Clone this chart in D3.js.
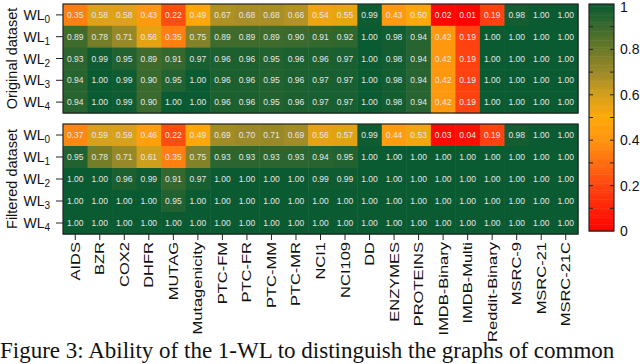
<!DOCTYPE html>
<html>
<head>
<meta charset="utf-8">
<script src="https://cdn.jsdelivr.net/npm/d3@7"></script>
<style>
  body { margin: 0; background: #fff; }
  svg { display: block; font-family: "Liberation Sans", Arial, sans-serif; }
</style>
</head>
<body>
<svg id="chart" width="640" height="364"></svg>
<script>
// datasets along the x axis
var datasets = ['AIDS', 'BZR', 'COX2', 'DHFR', 'MUTAG', 'Mutagenicity', 'PTC-FM', 'PTC-FR',
    'PTC-MM', 'PTC-MR', 'NCI1', 'NCI109', 'DD', 'ENZYMES', 'PROTEINS', 'IMDB-Binary',
    'IMDB-Multi', 'Reddit-Binary', 'MSRC-9', 'MSRC-21', 'MSRC-21C'];
var iterations = [0, 1, 2, 3, 4];

var original = [
    [0.35, 0.58, 0.58, 0.43, 0.22, 0.49, 0.67, 0.68, 0.68, 0.66, 0.54, 0.55, 0.99, 0.43, 0.50, 0.02, 0.01, 0.19, 0.98, 1.00, 1.00],
    [0.89, 0.78, 0.71, 0.56, 0.35, 0.75, 0.89, 0.89, 0.89, 0.90, 0.91, 0.92, 1.00, 0.98, 0.94, 0.42, 0.19, 1.00, 1.00, 1.00, 1.00],
    [0.93, 0.99, 0.95, 0.89, 0.91, 0.97, 0.96, 0.96, 0.95, 0.96, 0.96, 0.97, 1.00, 0.98, 0.94, 0.42, 0.19, 1.00, 1.00, 1.00, 1.00],
    [0.94, 1.00, 0.99, 0.90, 0.95, 1.00, 0.96, 0.96, 0.95, 0.96, 0.97, 0.97, 1.00, 0.98, 0.94, 0.42, 0.19, 1.00, 1.00, 1.00, 1.00],
    [0.94, 1.00, 0.99, 0.90, 1.00, 1.00, 0.96, 0.96, 0.95, 0.96, 0.97, 0.97, 1.00, 0.98, 0.94, 0.42, 0.19, 1.00, 1.00, 1.00, 1.00]
];
var filtered = [
    [0.37, 0.59, 0.59, 0.46, 0.22, 0.49, 0.69, 0.70, 0.71, 0.69, 0.56, 0.57, 0.99, 0.44, 0.53, 0.03, 0.04, 0.19, 0.98, 1.00, 1.00],
    [0.95, 0.78, 0.71, 0.61, 0.35, 0.75, 0.93, 0.93, 0.93, 0.93, 0.94, 0.95, 1.00, 1.00, 1.00, 1.00, 1.00, 1.00, 1.00, 1.00, 1.00],
    [1.00, 1.00, 0.96, 0.99, 0.91, 0.97, 1.00, 1.00, 1.00, 1.00, 0.99, 0.99, 1.00, 1.00, 1.00, 1.00, 1.00, 1.00, 1.00, 1.00, 1.00],
    [1.00, 1.00, 1.00, 1.00, 0.95, 1.00, 1.00, 1.00, 1.00, 1.00, 1.00, 1.00, 1.00, 1.00, 1.00, 1.00, 1.00, 1.00, 1.00, 1.00, 1.00],
    [1.00, 1.00, 1.00, 1.00, 1.00, 1.00, 1.00, 1.00, 1.00, 1.00, 1.00, 1.00, 1.00, 1.00, 1.00, 1.00, 1.00, 1.00, 1.00, 1.00, 1.00]
];
var colorTicks = [0, 0.2, 0.4, 0.6, 0.8, 1];

var svg = d3.select('#chart');

var color = d3.scaleLinear()
    .domain([0, 0.2, 0.4, 0.5, 0.6, 0.7, 0.8, 0.9, 1])
    .range(['#ff0000', '#ff4510', '#ff9410', '#ffa808', '#d4a01c', '#9c8a28', '#6c7a28', '#3a6a2e', '#0a5a32'])
    .clamp(true);

var x = d3.scaleBand().domain(d3.range(datasets.length)).range([63, 578]);

function drawPanel(data, top, bottom, title, withXAxis) {
    var y = d3.scaleBand().domain(iterations).range([top, bottom]);
    var g = svg.append('g');

    var cells = [];
    data.forEach(function (row, i) {
        row.forEach(function (v, j) {
            cells.push({ i: i, j: j, v: v });
        });
    });

    g.selectAll('rect.cell').data(cells).enter().append('rect')
        .attr('class', 'cell')
        .attr('x', function (d) { return x(d.j); })
        .attr('y', function (d) { return y(d.i); })
        .attr('width', x.bandwidth() + 0.5)
        .attr('height', y.bandwidth() + 0.5)
        .attr('fill', function (d) { return color(d.v); });

    g.selectAll('text.val').data(cells).enter().append('text')
        .attr('class', 'val')
        .attr('x', function (d) { return x(d.j) + x.bandwidth() / 2; })
        .attr('y', function (d) { return y(d.i) + y.bandwidth() / 2 + 3; })
        .attr('text-anchor', 'middle')
        .attr('font-size', 8.5)
        .attr('fill', '#e6e6e6')
        .text(function (d) { return d.v.toFixed(2); });

    g.append('rect')
        .attr('x', 63).attr('y', top)
        .attr('width', 515).attr('height', bottom - top)
        .attr('fill', 'none').attr('stroke', '#222').attr('stroke-width', 1.2);

    // y ticks + WL labels
    iterations.forEach(function (it) {
        var cy = y(it) + y.bandwidth() / 2;
        g.append('line').attr('x1', 56).attr('x2', 63).attr('y1', cy).attr('y2', cy)
            .attr('stroke', '#222').attr('stroke-width', 1);
        var t = g.append('text').attr('x', 50).attr('y', cy + 5)
            .attr('text-anchor', 'end').attr('font-size', 14).attr('fill', '#111');
        t.append('tspan').text('WL');
        t.append('tspan').attr('font-size', 10).attr('dy', 3).text(it);
    });

    g.append('text')
        .attr('transform', 'translate(17,' + ((top + bottom) / 2) + ') rotate(-90)')
        .attr('text-anchor', 'middle').attr('font-size', 14.5).attr('fill', '#111')
        .text(title);

    if (withXAxis) {
        var xa = g.append('g').attr('transform', 'translate(0,' + bottom + ')');
        datasets.forEach(function (name, j) {
            var cx = x(j) + x.bandwidth() / 2;
            xa.append('line').attr('x1', cx).attr('x2', cx).attr('y1', 0).attr('y2', 6)
                .attr('stroke', '#222');
            xa.append('text')
                .attr('transform', 'translate(' + (cx + 4.5) + ',8) rotate(-90) scale(1.32,1)')
                .attr('text-anchor', 'end').attr('font-size', 12.5).attr('fill', '#111')
                .text(name);
        });
    }
}

drawPanel(original, 4, 113, 'Original dataset', false);
drawPanel(filtered, 124, 234, 'Filtered dataset', true);

// colour bar
var cb = svg.append('g');
var cbY = d3.scaleLinear().domain([0, 1]).range([231, 4]);
var steps = d3.range(0, 100);
cb.selectAll('rect.step').data(steps).enter().append('rect')
    .attr('x', 589).attr('width', 25)
    .attr('y', function (s) { return cbY((s + 1) / 100); })
    .attr('height', function (s) { return cbY(s / 100) - cbY((s + 1) / 100) + 0.5; })
    .attr('fill', function (s) { return color((s + 0.5) / 100); });
cb.append('rect').attr('x', 589).attr('y', 4).attr('width', 25).attr('height', 227)
    .attr('fill', 'none').attr('stroke', '#222').attr('stroke-width', 1.2);
d3.range(1, 10).forEach(function (k) {
    var ty = cbY(k / 10);
    cb.append('line').attr('x1', 589).attr('x2', 593).attr('y1', ty).attr('y2', ty).attr('stroke', '#222');
    cb.append('line').attr('x1', 610).attr('x2', 614).attr('y1', ty).attr('y2', ty).attr('stroke', '#222');
});
cb.selectAll('text.cbl').data(colorTicks).enter().append('text')
    .attr('x', 620).attr('y', function (d) { return Math.max(cbY(d) + 5, 12); })
    .attr('font-size', 14).attr('fill', '#111')
    .text(function (d) { return d; });

// caption line from the page below the figure
svg.append('text')
    .attr('x', 0).attr('y', 358)
    .attr('font-family', '"Liberation Serif", "Times New Roman", serif')
    .attr('font-size', 23).attr('fill', '#111')
    .text('Figure 3: Ability of the 1-WL to distinguish the graphs of common');
</script>
</body>
</html>
